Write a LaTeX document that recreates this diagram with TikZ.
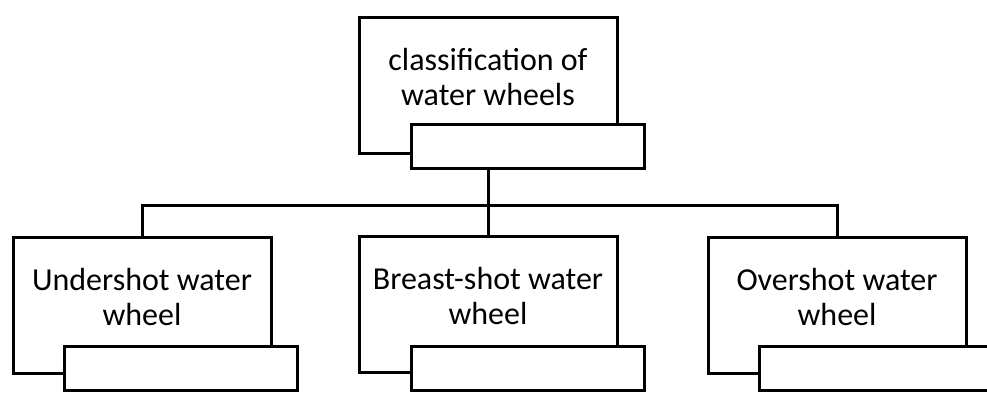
\documentclass[tikz,border=0pt]{standalone}
\usepackage{fontspec}
\setmainfont{Carlito}
\begin{document}
\begin{tikzpicture}[x=1pt,y=1pt,line width=3pt,
  mainbox/.style={draw,fill=white,minimum width=258pt,minimum height=136pt,
    align=center,text depth=16pt,font=\fontsize{32}{35}\selectfont},
  subbox/.style={draw,fill=white,minimum width=233pt,minimum height=44pt,
    inner sep=0pt,anchor=south west}]
  \useasboundingbox (0,0) rectangle (987,-392);
  % root
  \node[mainbox] (top) at (488,-85) {classification of\\water wheels};
  \node[subbox] (topsub) at ([shift={(52,-15)}]top.south west) {};
  % kinds of wheel
  \node[mainbox] (under) at (142,-305) {Undershot water\\wheel};
  \node[mainbox] (breast) at (488,-304) {Breast-shot water\\wheel};
  \node[mainbox] (over) at (837,-305) {Overshot water\\wheel};
  \node[subbox] (undersub) at ([shift={(51,-17)}]under.south west) {};
  \node[subbox] (breastsub) at ([shift={(52,-18)}]breast.south west) {};
  \node[subbox] (oversub) at ([shift={(51,-17)}]over.south west) {};
  % connectors
  \coordinate (bus) at (0,-205);
  \draw (top.south |- topsub.south) -- (breast.north);
  \draw (under.north) -- (under.north |- bus) -- (over.north |- bus) -- (over.north);
\end{tikzpicture}
\end{document}
